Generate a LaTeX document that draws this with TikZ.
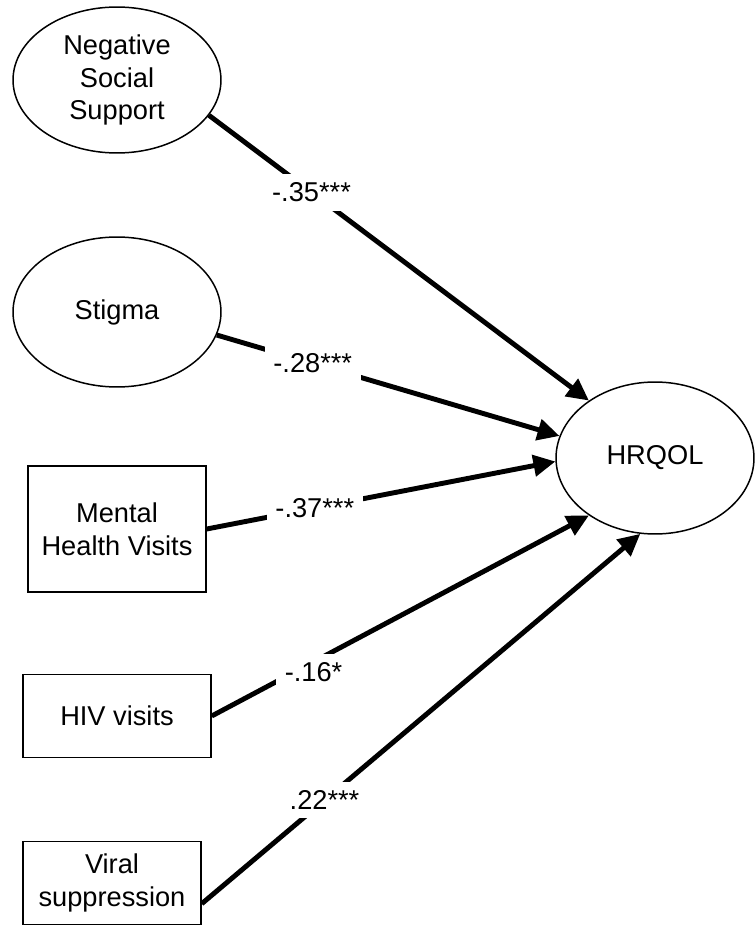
\documentclass[tikz,border=0pt]{standalone}
\usepackage{fontspec}
\setmainfont{Liberation Sans}
\usetikzlibrary{shapes.geometric,arrows.meta}
\begin{document}
\begin{tikzpicture}[x=0.02cm,y=-0.02cm,font=\fontsize{15.5}{18.7}\selectfont,
  latent/.style={ellipse,draw,line width=0.85pt,inner sep=0pt,align=center},
  observed/.style={rectangle,draw,line width=0.85pt,inner sep=0pt,align=center},
  coef/.style={fill=white,inner sep=5pt}]
\useasboundingbox (0,0) rectangle (755,926);
% predictors
\node[latent,minimum width=4.16cm,minimum height=2.92cm] (nss) at (117,80) {Negative\\Social\\Support};
\node[latent,minimum width=4.16cm,minimum height=3.0cm] (stig) at (117,312) {Stigma};
\node[observed,minimum width=3.56cm,minimum height=2.52cm] (mhv) at (117,529) {Mental\\Health Visits};
\node[observed,minimum width=3.76cm,minimum height=1.66cm] (hivv) at (117,716) {HIV visits};
\node[observed,minimum width=3.56cm,minimum height=1.66cm] (vir) at (112,883) {Viral\\suppression};
% outcome
\node[latent,minimum width=3.96cm,minimum height=3.04cm] (hrq) at (655,458) {HRQOL};

\path[-{Triangle[length=12.5pt,width=12pt]},line width=2.8pt]
% paths to HRQOL
(nss.-21) edge node[coef,pos=0.27]{-.35***} (hrq.139)
(stig.-13) edge node[coef,pos=0.28]{-.28***} (hrq.167)
(mhv.east) edge node[coef,pos=0.31]{-.37***} (hrq.182)
(hivv.east) edge node[coef,pos=0.27,yshift=-6pt]{-.16*} (hrq.221)
(vir.-13) edge node[coef,pos=0.28]{.22***} (hrq.259);

\end{tikzpicture}
\end{document}
